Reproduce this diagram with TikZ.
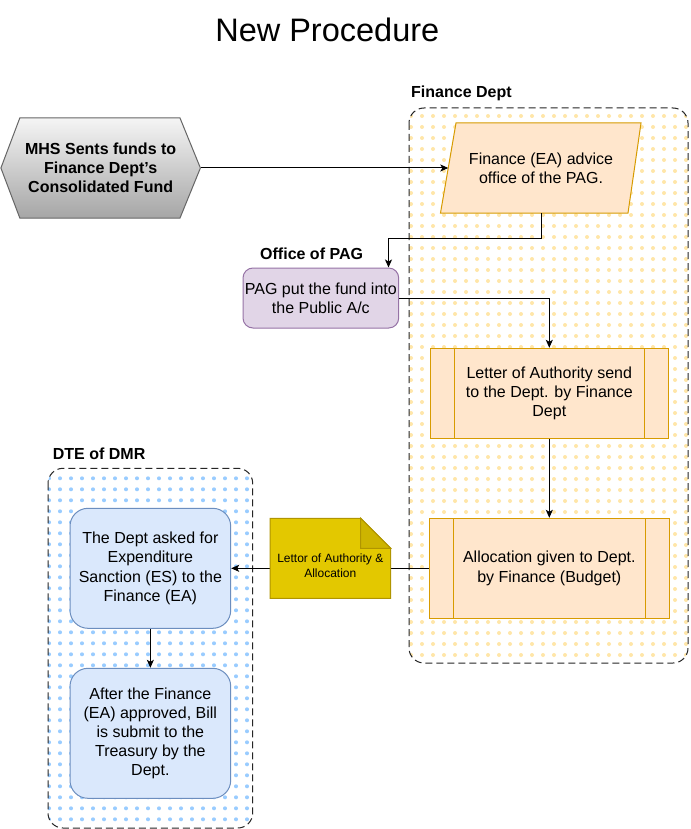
\documentclass[tikz,border=0pt]{standalone}
\usepackage{fontspec}
\setmainfont{Liberation Sans}
\usetikzlibrary{arrows.meta}
\definecolor{orfill}{HTML}{FFE6CC}
\definecolor{orline}{HTML}{D79B00}
\definecolor{pufill}{HTML}{E1D5E7}
\definecolor{puline}{HTML}{9673A6}
\definecolor{blfill}{HTML}{DAE8FC}
\definecolor{blline}{HTML}{6C8EBF}
\definecolor{nofill}{HTML}{E3C800}
\definecolor{noline}{HTML}{B09500}
\definecolor{nofold}{HTML}{CDB400}
\definecolor{dotY}{HTML}{FFE6A8}
\definecolor{dotB}{HTML}{99CCFF}
\definecolor{hexline}{HTML}{666666}
\tikzset{
  body/.style={font=\fontsize{16}{19.2}\selectfont, align=center, text=black, inner sep=0pt},
  lab/.style={font=\bfseries\fontsize{16}{19.2}\selectfont, anchor=west, inner sep=0pt},
  arr/.style={draw=black, line width=1pt, -{Stealth[length=8pt,width=7pt,inset=2pt]}},
  container/.style={draw=black!85, line width=1pt, dash pattern=on 7pt off 4pt, rounded corners=15pt},
  procbox/.style={body, draw=orline, fill=orfill, line width=1pt, minimum width=#1, minimum height=90pt,
    path picture={\draw[orline, line width=1pt]
      ([xshift=24pt]path picture bounding box.north west) -- ([xshift=24pt]path picture bounding box.south west)
      ([xshift=-24pt]path picture bounding box.north east) -- ([xshift=-24pt]path picture bounding box.south east);}},
  dmrbox/.style={body, draw=blline, fill=blfill, line width=1pt, rounded corners=18pt, minimum width=160.7pt, minimum height=120pt},
}
\begin{document}
\begin{tikzpicture}[x=1pt,y=-1pt]
\useasboundingbox (0,0) rectangle (690,829);
\fill[white] (0,0) rectangle (690,829);

% title
\node[font=\fontsize{32.5}{38}\selectfont, anchor=base, inner sep=0pt] (title) at (327.3,41.7) {New Procedure};

% Finance Dept container
\begin{scope}
\clip[rounded corners=15pt] (409,108) rectangle (688,663);
\foreach \x in {411,422,...,690} {\foreach \y in {116,127,...,665} {\fill[dotY] (\x,\y) circle[radius=2pt];}}
\end{scope}
\draw[container] (409,108) rectangle (688,663);
\node[lab] (finlab) at (411,93.3) {Finance Dept};

% DTE of DMR container
\begin{scope}
\clip[rounded corners=15pt] (48,468.3) rectangle (252.7,828);
\foreach \x in {49,60,...,253} {\foreach \y in {478.3,489.3,...,829} {\fill[dotB] (\x,\y) circle[radius=2pt];}}
\end{scope}
\draw[container] (48,468.3) rectangle (252.7,828);
\node[lab] (dmrlab) at (52.7,454) {DTE of DMR};

% hexagon
\path[draw=hexline, line width=1pt, top color=black!4, bottom color=black!35]
  (0.9,168) -- (19.8,118) -- (180,118) -- (200.4,168) -- (180,218) -- (19.8,218) -- cycle;
\node[body, font=\bfseries\fontsize{16}{19}\selectfont, minimum width=199.5pt, minimum height=100pt] (hex) at (100.65,168)
  {MHS Sents funds to\\Finance Dept\symbol{39}s\\Consolidated Fund};

% parallelogram
\path[draw=orline, fill=orfill, line width=1pt] (456,123) -- (641,123) -- (628,213) -- (440.5,213) -- cycle;
\node[body, minimum width=150pt, minimum height=90pt] (fin) at (541,168) {Finance (EA) advice\\office of the PAG.};
\coordinate (finL) at (448.3,168);

% PAG
\node[lab] (paglab) at (260,253.3) {Office of PAG};
\node[body, draw=puline, fill=pufill, line width=1pt, rounded corners=10pt, minimum width=155.7pt, minimum height=60pt] (pag) at (320.85,298)
  {PAG put the fund into\\the Public A/c};

% process boxes
\node[procbox=238.3pt] (letter) at (549.3,393.3) {Letter of Authority send\\to the Dept. by Finance\\Dept};
\node[procbox=240.3pt, minimum height=100pt] (alloc) at (549.3,568.3) {Allocation given to Dept.\\by Finance (Budget)};

% DMR boxes
\node[dmrbox] (dmr1) at (150.35,568.3) {The Dept asked for\\Expenditure\\Sanction (ES) to the\\Finance (EA)};
\node[dmrbox, minimum height=130pt] (dmr2) at (150.35,733.3) {After the Finance\\(EA) approved, Bill\\is submit to the\\Treasury by the\\Dept.};

% connectors
\coordinate (bend1) at (388.5,238);
\draw[arr] (hex.east) -- (finL);
\draw[arr] (fin.south) |- (bend1) -- (pag.north -| bend1);
\draw[arr] (pag.east) -| (letter.north);
\draw[arr] (letter.south) -- (alloc.north);
\draw[arr] (alloc.west) -- (dmr1.east);
\draw[arr] (dmr1.south) -- (dmr2.north);

% note (drawn over the connector)
\path[draw=noline, fill=nofill, line width=1pt] (270,518.3) -- (360.7,518.3) -- (390.7,548.3) -- (390.7,598.3) -- (270,598.3) -- cycle;
\path[draw=noline, fill=nofold, line width=1pt] (360.7,518.3) -- (360.7,548.3) -- (390.7,548.3) -- cycle;
\node[body, font=\fontsize{12}{15}\selectfont] (note) at (330.3,566.2) {Lettor of Authority \&\\Allocation};
\end{tikzpicture}
\end{document}
